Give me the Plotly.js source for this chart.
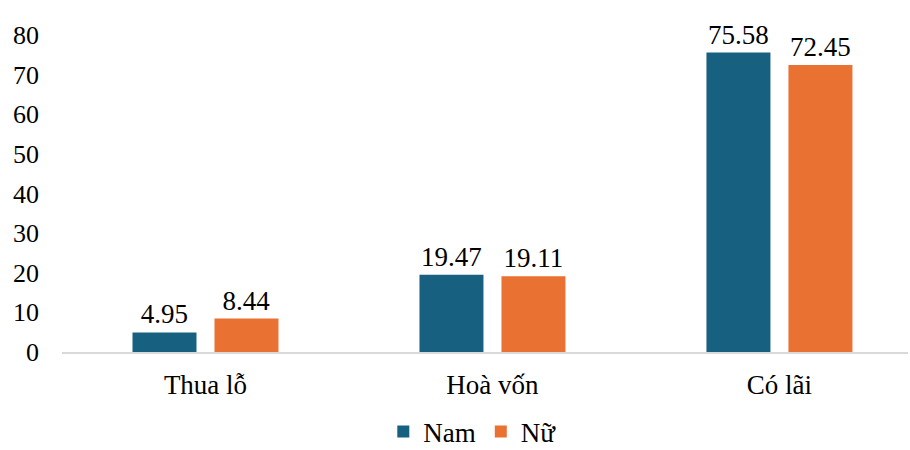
<!DOCTYPE html>
<html><head><meta charset="utf-8">
<script src="https://cdn.plot.ly/plotly-3.0.1.min.js"></script>
<style>html,body{margin:0;padding:0;background:#fff}</style>
</head><body>
<div id="chart" style="width:910px;height:450px"></div>
<script>
const categories = ["Thua lỗ", "Hoà vốn", "Có lãi"];
const namValues = [4.95, 19.47, 75.58];
const nuValues = [8.44, 19.11, 72.45];
const seriesNames = ["Nam", "Nữ"];
const yTicks = [0, 10, 20, 30, 40, 50, 60, 70, 80];

const font = {family: "'Liberation Serif', 'Times New Roman', serif", size: 27, color: "#000"};
const tickFont = {family: font.family, size: 26, color: "#000"};
function mk(name, vals, color) {
  return {
    type: "bar", name: name, x: categories, y: vals,
    marker: {color: color},
    text: vals.map(v => v.toFixed(2)), textposition: "outside",
    textfont: font, cliponaxis: false, hoverinfo: "skip"
  };
}
const data = [mk(seriesNames[0], namValues, "#17607f"), mk(seriesNames[1], nuValues, "#e97233")];
const layout = {
  width: 910, height: 450,
  margin: {l: 62, r: 2, t: 35, b: 98, autoexpand: false},
  paper_bgcolor: "#fff", plot_bgcolor: "#fff",
  font: font,
  barmode: "group", bargap: 0.4286, bargroupgap: 0.2195,
  xaxis: {range: [-0.5, 2.448], showline: true, linecolor: "#d9d9d9", linewidth: 2,
          ticks: "", tickfont: font, ticklabelstandoff: 8, fixedrange: true},
  yaxis: {range: [0, 80], tickvals: yTicks, showgrid: false, zeroline: false,
          showline: false, ticks: "", tickfont: tickFont, ticklabelstandoff: 22},
  showlegend: true,
  legend: {orientation: "h", x: 0.485, xanchor: "center", y: -0.175, yanchor: "top",
           font: font, itemwidth: 30, tracegroupgap: 0}
};
Plotly.newPlot("chart", data, layout, {displayModeBar: false, staticPlot: true});
</script>
</body></html>
